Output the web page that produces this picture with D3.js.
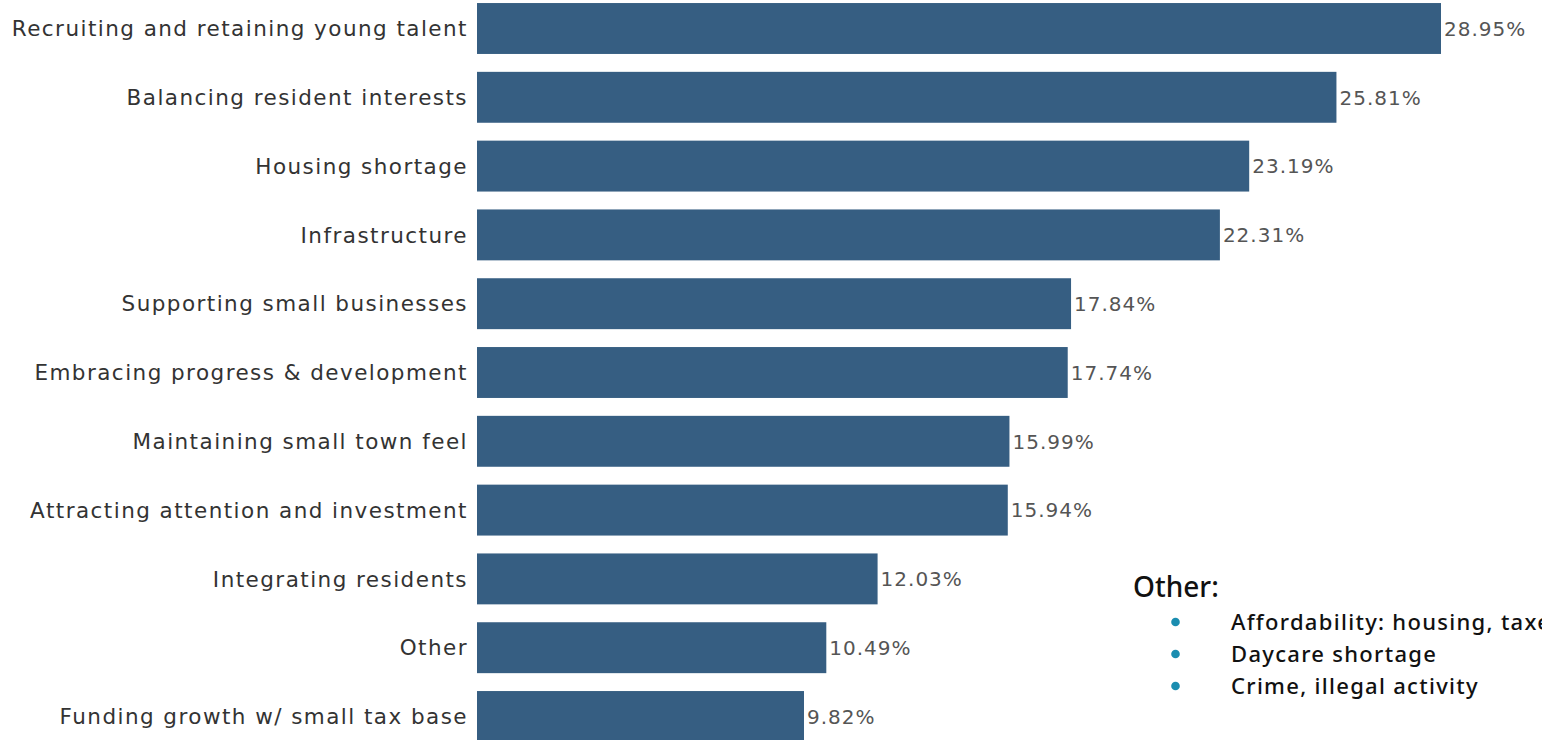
<!DOCTYPE html>
<html>
<head>
<meta charset="utf-8">
<script src="https://cdn.jsdelivr.net/npm/d3@7"></script>
<style>
  html, body { margin: 0; padding: 0; background: #ffffff; overflow: hidden; }
  svg { display: block; }
</style>
</head>
<body>
<svg id="chart" width="1542" height="740"></svg>
<script>
// Community challenges, share of responses (%)
const categories = [
  "Recruiting and retaining young talent",
  "Balancing resident interests",
  "Housing shortage",
  "Infrastructure",
  "Supporting small businesses",
  "Embracing progress & development",
  "Maintaining small town feel",
  "Attracting attention and investment",
  "Integrating residents",
  "Other",
  "Funding growth w/ small tax base"
];
const values = [28.95, 25.81, 23.19, 22.31, 17.84, 17.74, 15.99, 15.94, 12.03, 10.49, 9.82];

const otherTitle = "Other:";
const otherItems = [
  "Affordability: housing, taxes",
  "Daycare shortage",
  "Crime, illegal activity"
];

const svg = d3.select("#chart");

const x0 = 477;
const x = d3.scaleLinear().domain([0, 28.95]).range([x0, 1441]);

const y = d3.scaleBand()
  .domain(categories)
  .range([-5.9, 750.9])
  .paddingInner(0.26)
  .paddingOuter(0.13);

const barColor = "#365e82";
const labelFont = "'DejaVu Sans', 'Open Sans', sans-serif";
const noteFont = "'Noto Sans', Lato, sans-serif";

// bars
svg.append("g").selectAll("rect")
  .data(categories)
  .join("rect")
  .attr("x", x0)
  .attr("y", d => y(d))
  .attr("width", (d, i) => x(values[i]) - x0)
  .attr("height", y.bandwidth())
  .attr("fill", barColor);

// category labels
svg.append("g").selectAll("text")
  .data(categories)
  .join("text")
  .attr("x", x0 - 9)
  .attr("y", d => y(d) + y.bandwidth() / 2)
  .attr("dy", "0.36em")
  .attr("text-anchor", "end")
  .attr("font-family", labelFont)
  .attr("font-size", 21.5)
  .attr("letter-spacing", "1.45px")
  .attr("fill", "#333333")
  .text(d => d);

// value labels
svg.append("g").selectAll("text")
  .data(categories)
  .join("text")
  .attr("x", (d, i) => x(values[i]) + 3)
  .attr("y", d => y(d) + y.bandwidth() / 2)
  .attr("dy", "0.36em")
  .attr("font-family", labelFont)
  .attr("font-size", 20)
  .attr("letter-spacing", "1px")
  .attr("fill", "#555555")
  .text((d, i) => values[i].toFixed(2) + "%");

// note on the "Other" category
const note = svg.append("g");
note.append("text")
  .attr("x", 1133)
  .attr("y", 597)
  .attr("font-family", noteFont)
  .attr("font-size", 28)
  .attr("font-weight", 500)
  .attr("fill", "#111111")
  .text(otherTitle);

const itemY = d3.scaleLinear().domain([0, 1]).range([622, 654]);
otherItems.forEach((t, i) => {
  note.append("circle")
    .attr("cx", 1175.5)
    .attr("cy", itemY(i))
    .attr("r", 4.3)
    .attr("fill", "#1a8db0");
  note.append("text")
    .attr("x", 1231)
    .attr("y", itemY(i))
    .attr("dy", "0.36em")
    .attr("font-family", noteFont)
    .attr("font-size", 22)
    .attr("font-weight", 500)
    .attr("letter-spacing", "1.3px")
    .attr("fill", "#111111")
    .text(t);
});
</script>
</body>
</html>
